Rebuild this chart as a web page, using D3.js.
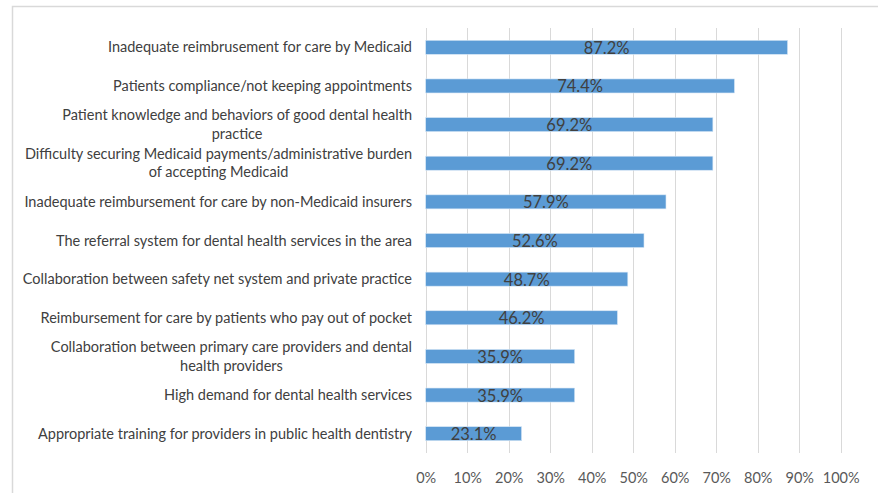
<!DOCTYPE html>
<html>
<head>
<meta charset="utf-8">
<script src="https://cdn.jsdelivr.net/npm/d3@7"></script>
<style>
  html, body { margin: 0; padding: 0; background: #fff; }
  svg { display: block; }
  text { font-family: Lato, "Open Sans", sans-serif; }
</style>
</head>
<body>
<svg id="chart" width="878" height="493"></svg>
<script>
// Barriers to dental care, share of respondents (top to bottom)
const categories = [
  "Inadequate reimbrusement for care by Medicaid",
  "Patients compliance/not keeping appointments",
  "Patient knowledge and behaviors of good dental health\npractice",
  "Difficulty securing Medicaid payments/administrative burden\nof accepting Medicaid",
  "Inadequate reimbursement for care by non-Medicaid insurers",
  "The referral system for dental health services in the area",
  "Collaboration between safety net system and private practice",
  "Reimbursement for care by patients who pay out of pocket",
  "Collaboration between primary care providers and dental\nhealth providers",
  "High demand for dental health services",
  "Appropriate training for providers in public health dentistry"
];
const values = [87.2, 74.4, 69.2, 69.2, 57.9, 52.6, 48.7, 46.2, 35.9, 35.9, 23.1];
const tickValues = [0, 10, 20, 30, 40, 50, 60, 70, 80, 90, 100];

const svg = d3.select("#chart");
const W = 878, H = 493;
const plot = { left: 425.7, right: 840.7, top: 28, bottom: 453 };

// chart frame
svg.append("rect")
  .attr("x", 12.5).attr("y", 6.5)
  .attr("width", W + 20).attr("height", H + 20)
  .attr("fill", "#fff").attr("stroke", "#d9d9d9").attr("stroke-width", 1.5);

const x = d3.scaleLinear().domain([0, 100]).range([plot.left, plot.right]);
const y = d3.scaleBand().domain(categories)
  .range([plot.top, plot.bottom])
  .paddingInner(0.637).paddingOuter(0.3185);

// vertical gridlines
svg.append("g")
  .selectAll("line")
  .data(tickValues)
  .join("line")
  .attr("x1", d => Math.round(x(d)) + 0.5)
  .attr("x2", d => Math.round(x(d)) + 0.5)
  .attr("y1", plot.top).attr("y2", plot.bottom)
  .attr("stroke", "#d9d9d9").attr("stroke-width", 1);

// x axis tick labels
const xAxis = d3.axisBottom(x).tickValues(tickValues)
  .tickFormat(d => d + "%").tickSize(0).tickPadding(0);
const gx = svg.append("g").attr("transform", `translate(0, ${plot.bottom + 29.5})`).call(xAxis);
gx.select(".domain").remove();
gx.selectAll("text")
  .attr("fill", "#595959").attr("font-size", "14.5px")
  .attr("font-family", "Lato, 'Open Sans', sans-serif")
  .attr("dy", 0);

// bars
svg.append("g")
  .selectAll("rect")
  .data(values)
  .join("rect")
  .attr("x", x(0))
  .attr("y", (d, i) => y(categories[i]))
  .attr("width", d => x(d) - x(0))
  .attr("height", y.bandwidth())
  .attr("fill", "#5b9bd5")
  .attr("stroke", "#d6e6f5").attr("stroke-width", 0.6);

// value labels centred in each bar
svg.append("g")
  .selectAll("text")
  .data(values)
  .join("text")
  .attr("x", d => (x(0) + x(d)) / 2)
  .attr("y", (d, i) => y(categories[i]) + y.bandwidth() / 2 + 6.5)
  .attr("text-anchor", "middle")
  .attr("fill", "#404040").attr("font-size", "16.5px")
  .text(d => d.toFixed(1) + "%");

// category labels, wrapped lines centred on each other
const yLab = svg.append("g");
categories.forEach(c => {
  const lines = c.split("\n");
  const cy = y(c) + y.bandwidth() / 2;
  const lh = 18.3;
  const t = yLab.append("text")
    .attr("fill", "#404040").attr("font-size", "14.5px");
  if (lines.length === 1) {
    t.attr("x", 412).attr("y", cy + 5).attr("text-anchor", "end").text(c);
  } else {
    t.attr("text-anchor", "middle");
    const tmp = [];
    lines.forEach((ln, k) => {
      tmp.push(t.append("tspan").attr("y", cy + 5 + (k - (lines.length - 1) / 2) * lh).text(ln));
    });
    // width of widest line sets the block; block is right aligned at 412
    const wMax = d3.max(tmp, s => s.node().getComputedTextLength());
    tmp.forEach(s => s.attr("x", 412 - wMax / 2));
  }
});
</script>
</body>
</html>
